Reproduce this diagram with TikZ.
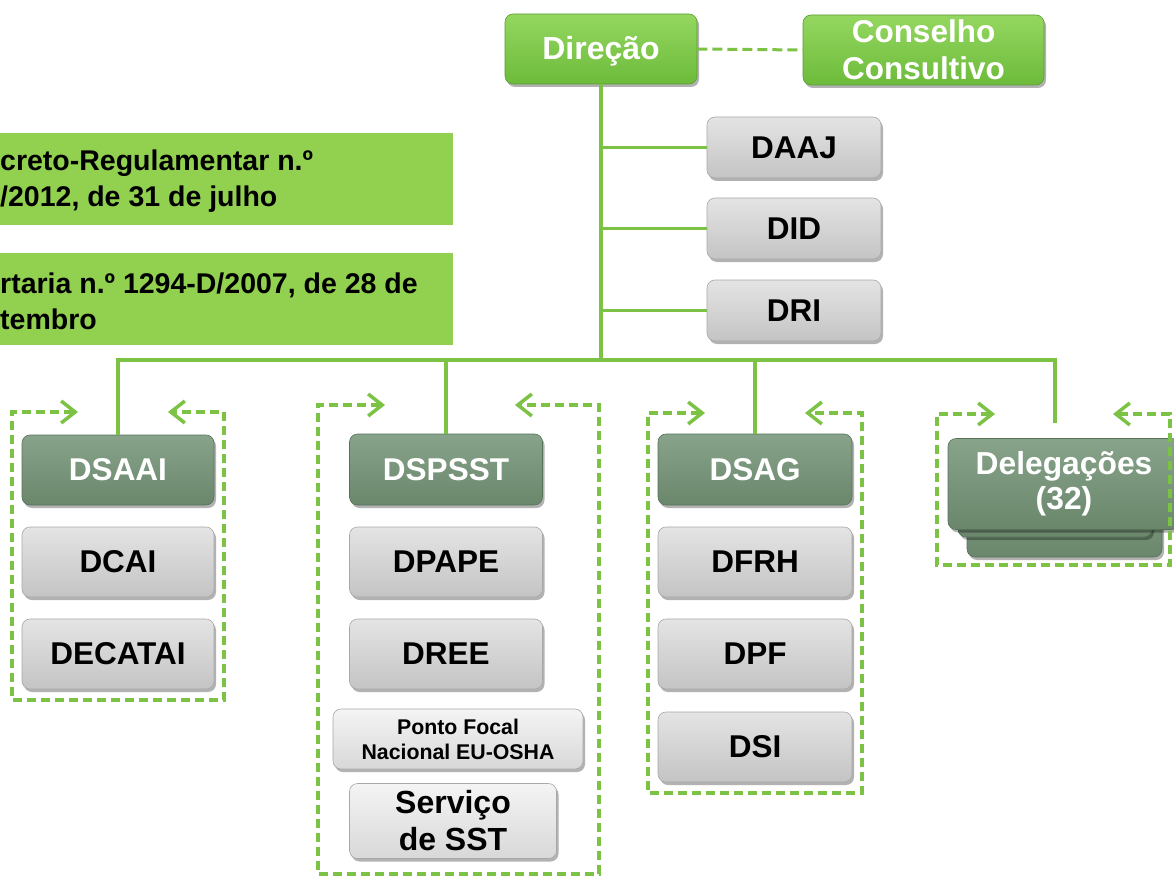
\documentclass[tikz,border=0pt]{standalone}
\usepackage{fontspec}
\setmainfont{Liberation Sans}
\usetikzlibrary{arrows.meta,shadows,calc}
\definecolor{lgreen}{HTML}{92D050}
\definecolor{gtop}{HTML}{94D760}
\definecolor{gbot}{HTML}{6DBB3B}
\definecolor{gdraw}{HTML}{5C9A31}
\definecolor{htop}{HTML}{87A38A}
\definecolor{hbot}{HTML}{6A876C}
\definecolor{hdraw}{HTML}{58725A}
\definecolor{ytop}{HTML}{E4E4E4}
\definecolor{ybot}{HTML}{C4C4C4}
\definecolor{ydraw}{HTML}{A8A8A8}
\definecolor{ltop}{HTML}{F4F4F4}
\definecolor{lbot}{HTML}{D8D8D8}
\definecolor{conn}{HTML}{7CC244}
\begin{document}
\begin{tikzpicture}[x=1pt,y=-1pt,
  basebox/.style={rounded corners=8pt, inner sep=0pt, align=center,
    drop shadow={shadow xshift=2pt, shadow yshift=-3pt, fill=black, opacity=0.3},
    font=\bfseries\fontsize{31.5}{36}\selectfont},
  greenbox/.style={basebox, top color=gtop, bottom color=gbot, draw=gdraw, line width=0.6pt, text=white},
  headbox/.style={basebox, top color=htop, bottom color=hbot, draw=hdraw, line width=0.6pt, text=white},
  graybox/.style={basebox, top color=ytop, bottom color=ybot, draw=ydraw, line width=0.6pt, text=black},
  lightbox/.style={basebox, top color=ltop, bottom color=lbot, draw=ydraw, line width=0.6pt, text=black},
  connector/.style={draw=conn, line width=3.5pt},
  grpdash/.style={draw=conn, line width=3.5pt, dash pattern=on 9pt off 5pt,
    {Straight Barb[length=14pt,width=22pt,line width=3.5pt]}-{Straight Barb[length=14pt,width=22pt,line width=3.5pt]}},
  lawtext/.style={anchor=north west, inner sep=0pt, align=left, text=black,
    font=\bfseries\fontsize{28.5}{36}\selectfont}
]
\useasboundingbox (0,0) rectangle (1174,877);
\clip (0,0) rectangle (1174,877);

% legal text boxes
\fill[lgreen] (0,133) rectangle (453,225);
\fill[lgreen] (0,253) rectangle (453,345);
\node[lawtext] (law1) at (0,150) {creto-Regulamentar n.º\\/2012, de 31 de julho};
\node[lawtext] (law2) at (0,273) {rtaria n.º 1294-D/2007, de 28 de\\tembro};

% top
\node[greenbox, minimum width=192pt, minimum height=70pt, font=\bfseries\fontsize{32}{36}\selectfont, text height=25pt, text depth=3pt] (dir) at (601,49) {Direção};
\node[greenbox, minimum width=241pt, minimum height=70pt, font=\bfseries\fontsize{31.5}{38}\selectfont] (cons) at (923.5,50) {Conselho\\[-1pt]Consultivo};

\node[graybox, minimum width=174pt, minimum height=61pt] (daaj) at (794,147.5) {DAAJ};
\node[graybox, minimum width=174pt, minimum height=61pt] (did) at (794,228.5) {DID};
\node[graybox, minimum width=174pt, minimum height=61pt] (dri) at (794,310.5) {DRI};

% group 1
\node[headbox, minimum width=192pt, minimum height=70pt] (dsaai) at (118,470) {DSAAI};
\node[graybox, minimum width=192pt, minimum height=70pt] (dcai) at (118,562) {DCAI};
\node[graybox, minimum width=192pt, minimum height=70pt] (decatai) at (118,654) {DECATAI};

% group 2
\node[headbox, minimum width=193pt, minimum height=71pt] (dspsst) at (446,469.5) {DSPSST};
\node[graybox, minimum width=193pt, minimum height=70pt] (dpape) at (446,562) {DPAPE};
\node[graybox, minimum width=193pt, minimum height=70pt] (dree) at (446,654) {DREE};
\node[lightbox, minimum width=250pt, minimum height=60pt, font=\bfseries\fontsize{21.3}{25}\selectfont] (ponto) at (458,739) {Ponto Focal\\Nacional EU-OSHA};
\node[lightbox, minimum width=207pt, minimum height=75pt, font=\bfseries\fontsize{32}{37}\selectfont] (servico) at (453,821) {Serviço\\de SST};

% group 3
\node[headbox, minimum width=194pt, minimum height=71pt] (dsag) at (755,469.5) {DSAG};
\node[graybox, minimum width=194pt, minimum height=70pt] (dfrh) at (755,562) {DFRH};
\node[graybox, minimum width=194pt, minimum height=70pt] (dpf) at (755,654) {DPF};
\node[graybox, minimum width=194pt, minimum height=70pt] (dsi) at (755,747) {DSI};

% group 4: stacked delegations
\node[headbox, minimum width=195pt, minimum height=80pt] (deleg3) at (1064.5,517) {};
\node[headbox, minimum width=194pt, minimum height=80pt] (deleg2) at (1055,497) {};
\node[headbox, minimum width=232pt, minimum height=91pt, font=\bfseries\fontsize{31.8}{35}\selectfont] (deleg) at (1064,484) {Delegações\\(32)};

% connectors
\coordinate (hub) at (601,360);
\coordinate (delegtop) at (1055,423);
\draw[connector] (dir.south) -- (hub);
\draw[connector] (daaj.west) -- (daaj.west -| dir.south);
\draw[connector] (did.west) -- (did.west -| dir.south);
\draw[connector] (dri.west) -- (dri.west -| dir.south);
\draw[connector] (hub) -| (dsaai.north);
\draw[connector] (hub) -| (delegtop);
\draw[connector] (dspsst.north) -- (dspsst.north |- hub);
\draw[connector] (dsag.north) -- (dsag.north |- hub);
\draw[draw=conn, line width=3pt, dash pattern=on 10pt off 5pt] (dir.east) -- (cons.west);

% dashed group outlines
\draw[grpdash] (78,412) -- (12,412) -- (12,700) -- (224,700) -- (224,412) -- (168,412);
\draw[grpdash] (385,405) -- (318,405) -- (318,874) -- (599,874) -- (599,405) -- (515,405);
\draw[grpdash] (705,413) -- (648,413) -- (648,793) -- (862,793) -- (862,413) -- (805,413);
\draw[grpdash] (995,414) -- (937,414) -- (937,565) -- (1170,565) -- (1170,414) -- (1113,414);
\end{tikzpicture}
\end{document}
